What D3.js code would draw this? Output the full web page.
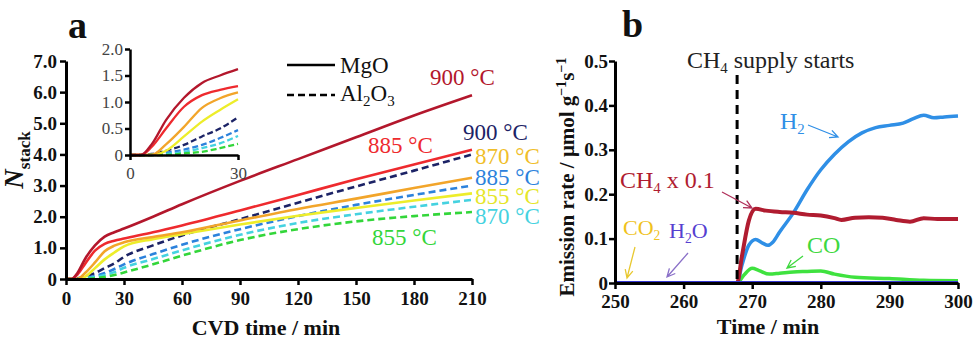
<!DOCTYPE html>
<html>
<head>
<meta charset="utf-8">
<script src="https://cdn.jsdelivr.net/npm/d3@7/dist/d3.min.js"></script>
<style>
  body { margin: 0; background: #fff; }
  svg { display: block; }
  text { font-family: "Liberation Serif", "Times New Roman", serif; }
</style>
</head>
<body>
<svg id="chart" width="979" height="342"></svg>
<script>
const SERIF = '"Liberation Serif", "Times New Roman", serif';

// ---- panel a : N_stack vs CVD time ----
const cvdTime = [0, 3, 6, 10, 15, 20, 25, 30, 45, 60, 90, 120, 150, 180, 210];
const mgo900 = [0, 0, 0.2, 0.66, 1.08, 1.36, 1.5, 1.62, 2.0, 2.4, 3.15, 3.85, 4.55, 5.25, 5.9];
const mgo885 = [0, 0, 0.15, 0.5, 0.91, 1.13, 1.23, 1.3, 1.5, 1.72, 2.2, 2.7, 3.2, 3.68, 4.15];
const mgo870 = [0, 0, 0, 0.2, 0.53, 0.89, 1.07, 1.18, 1.35, 1.5, 1.88, 2.25, 2.58, 2.92, 3.25];
const mgo855 = [0, 0, 0, 0.08, 0.35, 0.63, 0.85, 1.05, 1.28, 1.44, 1.75, 2.03, 2.28, 2.52, 2.75];
const al900 = [0, 0, 0.02, 0.08, 0.19, 0.35, 0.5, 0.71, 1.08, 1.4, 1.92, 2.45, 2.97, 3.48, 4.0];
const al885 = [0, 0, 0, 0.04, 0.1, 0.19, 0.32, 0.47, 0.8, 1.1, 1.6, 2.02, 2.38, 2.7, 3.0];
const al870 = [0, 0, 0, 0.02, 0.06, 0.13, 0.22, 0.36, 0.64, 0.92, 1.42, 1.8, 2.08, 2.32, 2.54];
const al855 = [0, 0, 0, 0, 0.03, 0.06, 0.13, 0.21, 0.47, 0.75, 1.25, 1.6, 1.85, 2.02, 2.15];

const aTicksX = [0, 30, 60, 90, 120, 150, 180, 210];
const aTicksY = [0, 1, 2, 3, 4, 5, 6, 7];
const insetTicksX = [0, 30];
const insetTicksY = [0, 0.5, 1, 1.5, 2];

// ---- panel b : emission rate vs time ----
const ch4Time = [250, 267.8, 268.5, 269.5, 270.5, 272, 274, 276, 278, 280, 282, 283, 285, 287, 289, 291, 293, 295, 297, 300];
const ch4Rate = [0, 0, 0.06, 0.14, 0.167, 0.163, 0.16, 0.158, 0.154, 0.152, 0.146, 0.142, 0.147, 0.148, 0.147, 0.142, 0.138, 0.146, 0.144, 0.144];
const h2Time = [250, 267.8, 268.5, 269.5, 270.5, 271.5, 272.3, 273, 274, 276, 278, 280, 282, 284, 286, 288, 290, 292, 293.5, 295, 296.5, 298, 300];
const h2Rate = [0, 0, 0.04, 0.085, 0.098, 0.09, 0.085, 0.092, 0.115, 0.158, 0.21, 0.255, 0.29, 0.318, 0.338, 0.35, 0.355, 0.36, 0.37, 0.378, 0.372, 0.374, 0.376];
const coTime = [250, 267.8, 268.8, 270, 271, 272.5, 274, 276, 278, 280, 282, 285, 290, 295, 300];
const coRate = [0, 0, 0.018, 0.033, 0.028, 0.02, 0.022, 0.025, 0.026, 0.027, 0.02, 0.013, 0.01, 0.006, 0.005];
const h2oTime = [250, 300];
const h2oRate = [0, 0];
const ch4Start = 267.8;

const bTicksX = [250, 260, 270, 280, 290, 300];
const bTicksY = [0, 0.1, 0.2, 0.3, 0.4, 0.5];

const svg = d3.select('#chart');

// scales
const xA = d3.scaleLinear().domain([0, 210]).range([66, 472]);
const yA = d3.scaleLinear().domain([0, 7]).range([279, 61]);
const xIn = d3.scaleLinear().domain([0, 30]).range([130, 238]);
const yIn = d3.scaleLinear().domain([0, 2]).range([155, 49]);
const xB = d3.scaleLinear().domain([250, 300]).range([615, 958]);
const yB = d3.scaleLinear().domain([0, 0.5]).range([283, 61]);

const seriesA = [
  {v: al900, color: '#1c2366', dash: '7,4'},
  {v: al885, color: '#2c82dc', dash: '7,4'},
  {v: al870, color: '#45d2e0', dash: '7,4'},
  {v: al855, color: '#33d63a', dash: '7,4'},
  {v: mgo855, color: '#eded2a', dash: null},
  {v: mgo870, color: '#f2a52a', dash: null},
  {v: mgo885, color: '#ee2a2e', dash: null},
  {v: mgo900, color: '#b3172c', dash: null}
];

function styleAxis(g, bold, size, color)
{
  g.attr('font-family', SERIF);
  g.select('.domain').attr('stroke', '#000').attr('stroke-width', 3);
  g.selectAll('.tick line').attr('stroke', '#000').attr('stroke-width', 2.5);
  g.selectAll('.tick text')
    .attr('fill', color)
    .attr('font-family', SERIF)
    .style('font-size', size + 'px')
    .style('font-weight', bold ? 'bold' : 'normal');
}

const fmtOne = d => d === 0 ? '0' : d3.format('.1f')(d);

// ---- panel a main ----
const lineA = d3.line()
  .x(d => xA(d[0]))
  .y(d => yA(d[1]))
  .curve(d3.curveMonotoneX);

const gA = svg.append('g');

seriesA.forEach(s => {
  gA.append('path')
    .datum(cvdTime.map((t, i) => [t, s.v[i]]))
    .attr('fill', 'none')
    .attr('stroke', s.color)
    .attr('stroke-width', 2.6)
    .attr('stroke-dasharray', s.dash)
    .attr('d', lineA);
});

gA.append('g')
  .attr('transform', 'translate(0,' + yA(0) + ')')
  .call(d3.axisBottom(xA).tickValues(aTicksX).tickSize(6).tickSizeOuter(0).tickPadding(7).tickFormat(d3.format('d')))
  .call(g => styleAxis(g, true, 19, '#111'));

gA.append('g')
  .attr('transform', 'translate(' + xA(0) + ',0)')
  .call(d3.axisLeft(yA).tickValues(aTicksY).tickSize(6).tickSizeOuter(0).tickPadding(3).tickFormat(fmtOne))
  .call(g => styleAxis(g, true, 19, '#111'));

// ---- inset ----
const lineIn = d3.line()
  .x(d => xIn(d[0]))
  .y(d => yIn(d[1]))
  .curve(d3.curveMonotoneX);

seriesA.forEach(s => {
  const pts = cvdTime.map((t, i) => [t, s.v[i]]).filter(d => d[0] <= 30);
  gA.append('path')
    .datum(pts)
    .attr('fill', 'none')
    .attr('stroke', s.color)
    .attr('stroke-width', 2.3)
    .attr('stroke-dasharray', s.dash ? '6,3' : null)
    .attr('d', lineIn);
});

gA.append('g')
  .attr('transform', 'translate(0,' + yIn(0) + ')')
  .call(d3.axisBottom(xIn).tickValues(insetTicksX).tickSize(5).tickSizeOuter(0).tickPadding(7).tickFormat(d3.format('d')))
  .call(g => styleAxis(g, false, 17, '#444'))
  .call(g => g.select('.domain').attr('stroke-width', 2.5));

gA.append('g')
  .attr('transform', 'translate(' + xIn(0) + ',0)')
  .call(d3.axisLeft(yIn).tickValues(insetTicksY).tickSize(5).tickSizeOuter(0).tickPadding(2).tickFormat(fmtOne))
  .call(g => styleAxis(g, false, 17, '#444'))
  .call(g => g.select('.domain').attr('stroke-width', 2.5));

// legend
gA.append('line').attr('x1', 287).attr('x2', 335).attr('y1', 65).attr('y2', 65)
  .attr('stroke', '#000').attr('stroke-width', 2.6);
gA.append('line').attr('x1', 287).attr('x2', 335).attr('y1', 95).attr('y2', 95)
  .attr('stroke', '#000').attr('stroke-width', 2.6).attr('stroke-dasharray', '7,4');
gA.append('text').attr('x', 340).attr('y', 73).attr('font-size', 23).attr('fill', '#111').text('MgO');
const alTxt = gA.append('text').attr('x', 340).attr('y', 101).attr('font-size', 23).attr('fill', '#111');
alTxt.append('tspan').text('Al');
alTxt.append('tspan').attr('font-size', 15).attr('dy', 5).text('2');
alTxt.append('tspan').attr('dy', -5).text('O');
alTxt.append('tspan').attr('font-size', 15).attr('dy', 5).text('3');

// temperature labels
const tempLabels = [
  {t: '900 °C', x: 430, y: 85, c: '#b3172c'},
  {t: '885 °C', x: 368, y: 153, c: '#ee2a2e'},
  {t: '900 °C', x: 463, y: 140, c: '#1c2366'},
  {t: '870 °C', x: 475, y: 164, c: '#f0be2a'},
  {t: '885 °C', x: 475, y: 185, c: '#2c82dc'},
  {t: '855 °C', x: 475, y: 204, c: '#e6e62a'},
  {t: '870 °C', x: 475, y: 224, c: '#45d2e0'},
  {t: '855 °C', x: 372, y: 245, c: '#33d63a'}
];
tempLabels.forEach(l => {
  gA.append('text').attr('x', l.x).attr('y', l.y).attr('font-size', 23)
    .attr('fill', l.c).text(l.t);
});

// axis titles a
gA.append('text').attr('x', 266).attr('y', 335).attr('text-anchor', 'middle')
  .attr('font-size', 22).attr('font-weight', 'bold').attr('fill', '#111').text('CVD time / min');
const nLab = gA.append('text').attr('transform', 'translate(23,160) rotate(-90)')
  .attr('text-anchor', 'middle').attr('fill', '#111').attr('font-weight', 'bold');
nLab.append('tspan').attr('font-size', 27).attr('font-style', 'italic').text('N');
nLab.append('tspan').attr('font-size', 17).attr('dy', 7).text('stack');

gA.append('text').attr('x', 68).attr('y', 38).attr('font-size', 38)
  .attr('font-weight', 'bold').attr('fill', '#111').text('a');

// ---- panel b ----
const gB = svg.append('g');
const lineB = d3.line()
  .x(d => xB(d[0]))
  .y(d => yB(d[1]))
  .curve(d3.curveMonotoneX);

const seriesB = [
  {t: coTime, v: coRate, color: '#3fe23f', w: 3.5},
  {t: h2Time, v: h2Rate, color: '#2f8fe6', w: 3.5},
  {t: ch4Time, v: ch4Rate, color: '#b01c30', w: 4},
  {t: h2oTime, v: h2oRate, color: '#3535d2', w: 4}
];
seriesB.forEach(s => {
  gB.append('path')
    .datum(s.t.map((t, i) => [t, s.v[i]]))
    .attr('fill', 'none')
    .attr('stroke', s.color)
    .attr('stroke-width', s.w)
    .attr('d', lineB);
});

// CH4 start marker
gB.append('line')
  .attr('x1', xB(ch4Start)).attr('x2', xB(ch4Start))
  .attr('y1', 75).attr('y2', yB(0))
  .attr('stroke', '#000').attr('stroke-width', 3).attr('stroke-dasharray', '9,6');

gB.append('g')
  .attr('transform', 'translate(0,' + yB(0) + ')')
  .call(d3.axisBottom(xB).tickValues(bTicksX).tickSize(6).tickSizeOuter(0).tickPadding(6).tickFormat(d3.format('d')))
  .call(g => styleAxis(g, true, 19, '#111'));

gB.append('g')
  .attr('transform', 'translate(' + xB(250) + ',0)')
  .call(d3.axisLeft(yB).tickValues(bTicksY).tickSize(6).tickSizeOuter(0).tickPadding(1).tickFormat(fmtOne))
  .call(g => styleAxis(g, true, 19, '#111'));

// annotation text with subscripts
function subText(g, x, y, size, color, parts)
{
  const t = g.append('text').attr('x', x).attr('y', y).attr('font-size', size).attr('fill', color);
  let shift = 0;
  parts.forEach(p => {
    const sub = p[1];
    const dy = sub ? 5 - shift : -shift;
    shift = sub ? 5 : 0;
    t.append('tspan').attr('dy', dy).attr('font-size', sub ? size * 0.62 : size).text(p[0]);
  });
  return t;
}

subText(gB, 687, 68, 24, '#222', [['CH', 0], ['4', 1], [' supply starts', 0]]);
subText(gB, 620, 188, 24, '#b01c30', [['CH', 0], ['4', 1], [' x 0.1', 0]]);
subText(gB, 780, 129, 24, '#2f8fe6', [['H', 0], ['2', 1]]);
subText(gB, 807, 253, 24, '#3fd83f', [['CO', 0]]);
subText(gB, 623, 235, 22, '#f0c21c', [['CO', 0], ['2', 1]]);
subText(gB, 669, 238, 22, '#5540d0', [['H', 0], ['2', 1], ['O', 0]]);

function arrow(g, x1, y1, x2, y2, color)
{
  const a = Math.atan2(y2 - y1, x2 - x1);
  const len = 9, sp = 0.45;
  const p = d3.path();
  p.moveTo(x1, y1); p.lineTo(x2, y2);
  p.moveTo(x2 - len * Math.cos(a - sp), y2 - len * Math.sin(a - sp));
  p.lineTo(x2, y2);
  p.lineTo(x2 - len * Math.cos(a + sp), y2 - len * Math.sin(a + sp));
  g.append('path').attr('d', p.toString()).attr('fill', 'none')
    .attr('stroke', color).attr('stroke-width', 1.3);
}
arrow(gB, 722, 192, 752, 208, '#b0305a');
arrow(gB, 808, 125, 838, 137, '#2f8fe6');
arrow(gB, 803, 256, 787, 268, '#3fd83f');
arrow(gB, 635, 247, 627, 278, '#e8c830');
arrow(gB, 688, 253, 667, 277, '#8a70c8');

// axis titles b
gB.append('text').attr('x', 768).attr('y', 334).attr('text-anchor', 'middle')
  .attr('font-size', 22).attr('font-weight', 'bold').attr('fill', '#111').text('Time / min');
const eLab = gB.append('text').attr('transform', 'translate(574,177) rotate(-90)')
  .attr('text-anchor', 'middle').attr('font-size', 21).attr('font-weight', 'bold').attr('fill', '#111');
eLab.append('tspan').text('Emission  rate / μmol g');
eLab.append('tspan').attr('font-size', 14).attr('dy', -8).text('−1');
eLab.append('tspan').attr('dy', 8).text('s');
eLab.append('tspan').attr('font-size', 14).attr('dy', -8).text('−1');

gB.append('text').attr('x', 622).attr('y', 37).attr('font-size', 38)
  .attr('font-weight', 'bold').attr('fill', '#111').text('b');
</script>
</body>
</html>
